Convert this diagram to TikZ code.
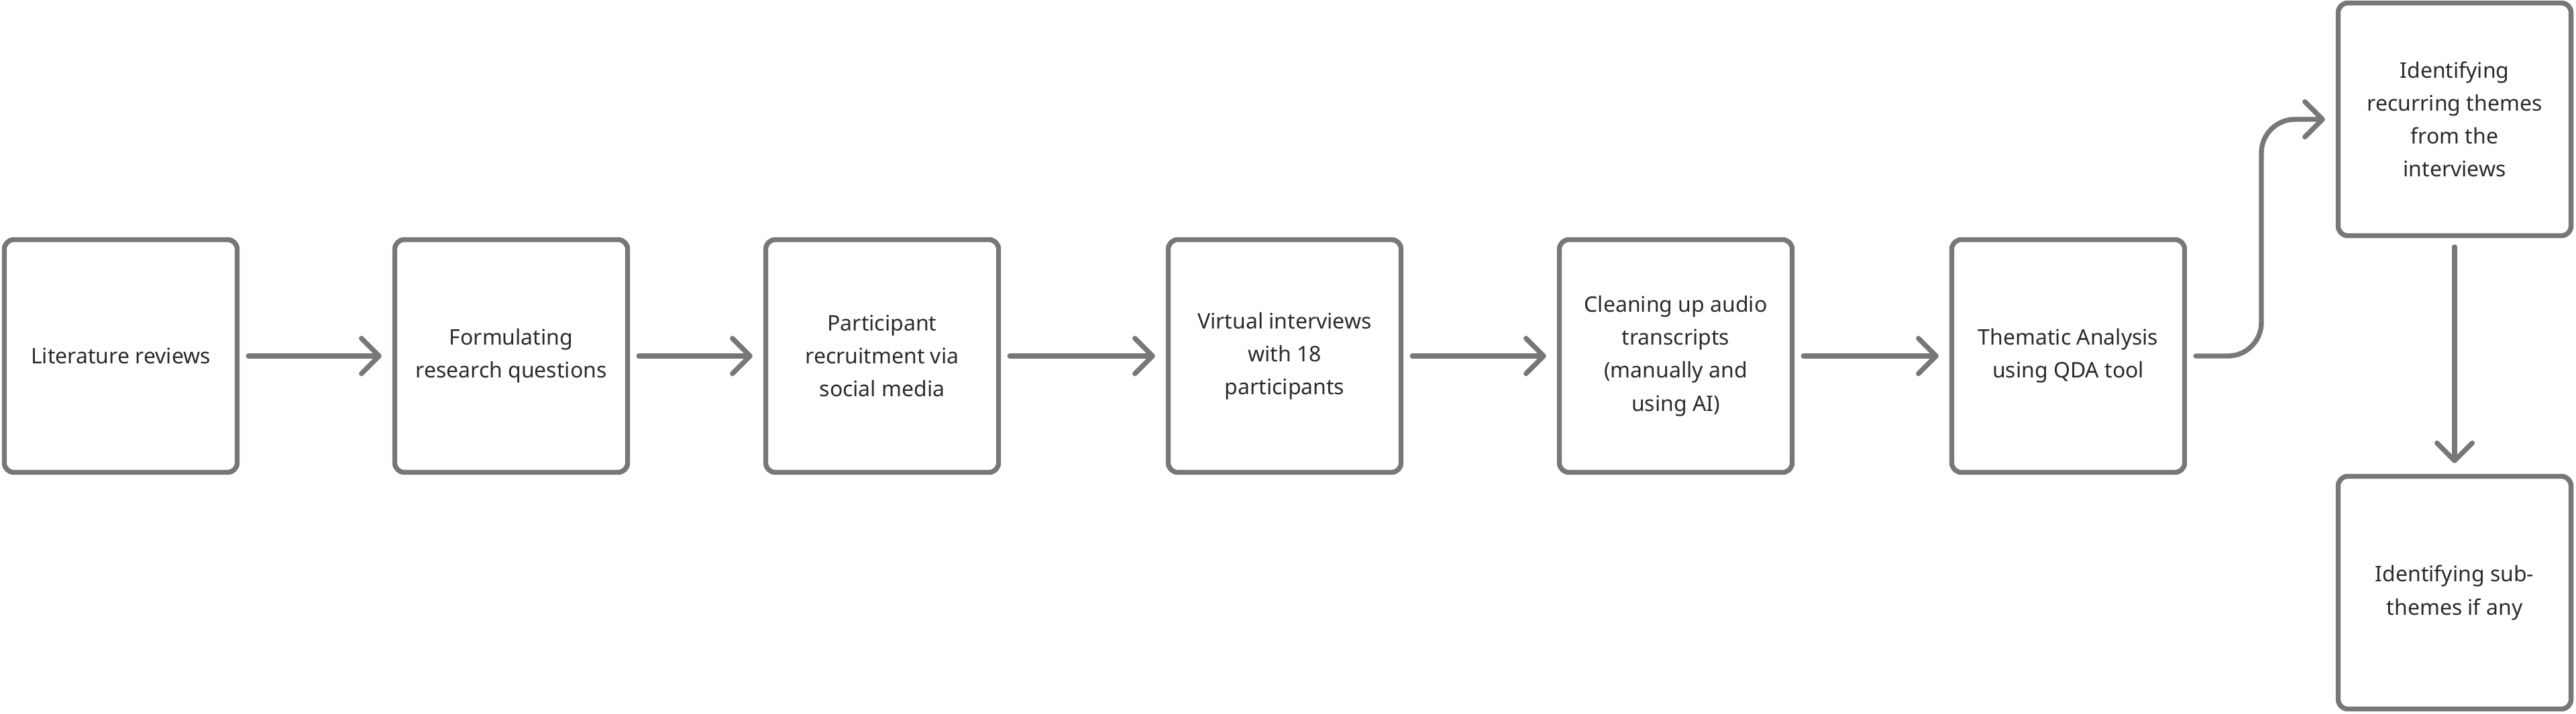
\documentclass[tikz,border=0pt]{standalone}
\usepackage{fontspec}
\setmainfont{Noto Sans}
\usetikzlibrary{arrows.meta}
\definecolor{boxgray}{HTML}{777777}
\definecolor{txtgray}{HTML}{2A2A2A}
\begin{document}
\begin{tikzpicture}[
		n/.style={draw=boxgray, line width=2.1pt, rounded corners=4pt, minimum width=3.47cm, minimum height=3.47cm,
			align=center, text=txtgray, font=\fontsize{9.1pt}{14pt}\selectfont},
		a/.style={draw=boxgray, line width=2.1pt, line cap=round,
			-{Straight Barb[length=7.5pt, width=15pt, round]}, shorten <=0.13cm, shorten >=0.16cm}]
			\useasboundingbox (0, 0) rectangle (38.4, 10.64);
			\node[n] (lit) at (1.80, 5.33) {Literature reviews};
			\node[n] (form) at (7.62, 5.33) {Formulating\\research questions};
			\node[n] (recr) at (13.15, 5.33) {Participant\\recruitment via\\social media};
			\node[n] (intv) at (19.15, 5.33) {Virtual interviews\\with 18\\participants};
			\node[n] (clean) at (24.98, 5.33) {Cleaning up audio\\transcripts\\(manually and\\using AI)};
			\node[n] (them) at (30.83, 5.33) {Thematic Analysis\\using QDA tool};
			\node[n] (ident) at (36.59, 8.86) {Identifying\\recurring themes\\from the\\interviews};
			\node[n] (sub) at (36.59, 1.80) {Identifying sub-\\themes if any};

			\draw[a] (lit) -- (form);
			\draw[a] (form) -- (recr);
			\draw[a] (recr) -- (intv);
			\draw[a] (intv) -- (clean);
			\draw[a] (clean) -- (them);
			\draw[a, rounded corners=0.5cm] (them.east) -- (33.71, 5.33) |- (ident.west);
			\draw[a] (ident) -- (sub);
		\end{tikzpicture}
\end{document}
